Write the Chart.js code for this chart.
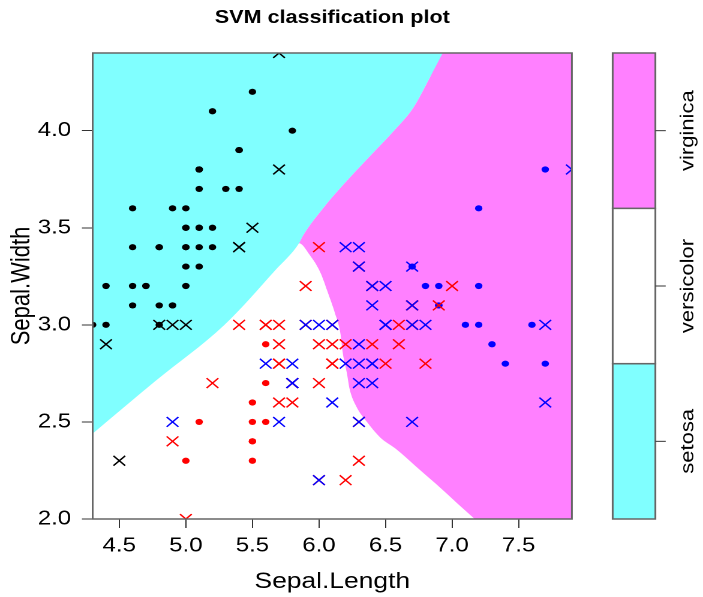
<!DOCTYPE html>
<html>
<head>
<meta charset="utf-8">
<script src="https://cdn.jsdelivr.net/npm/chart.js@4.4.0/dist/chart.umd.min.js"></script>
<style>
  html, body { margin: 0; padding: 0; background: #fff; }
  #plot { display: block; }
</style>
</head>
<body>
<!-- drawn narrower and stretched sideways, like the R device output -->
<canvas id="plot" width="586" height="597" style="width:703px;height:597px"></canvas>
<script>
// iris, Sepal.Length / Sepal.Width per species
const setosaLength = [5.1,4.9,4.7,4.6,5.0,5.4,4.6,5.0,4.4,4.9,5.4,4.8,4.8,4.3,5.8,5.7,5.4,5.1,5.7,5.1,5.4,5.1,4.6,5.1,4.8,5.0,5.0,5.2,5.2,4.7,4.8,5.4,5.2,5.5,4.9,5.0,5.5,4.9,4.4,5.1,5.0,4.5,4.4,5.0,5.1,4.8,5.1,4.6,5.3,5.0];
const setosaWidth  = [3.5,3.0,3.2,3.1,3.6,3.9,3.4,3.4,2.9,3.1,3.7,3.4,3.0,3.0,4.0,4.4,3.9,3.5,3.8,3.8,3.4,3.7,3.6,3.3,3.4,3.0,3.4,3.5,3.4,3.2,3.1,3.4,4.1,4.2,3.1,3.2,3.5,3.6,3.0,3.4,3.5,2.3,3.2,3.5,3.8,3.0,3.8,3.2,3.7,3.3];
const versicolorLength = [7.0,6.4,6.9,5.5,6.5,5.7,6.3,4.9,6.6,5.2,5.0,5.9,6.0,6.1,5.6,6.7,5.6,5.8,6.2,5.6,5.9,6.1,6.3,6.1,6.4,6.6,6.8,6.7,6.0,5.7,5.5,5.5,5.8,6.0,5.4,6.0,6.7,6.3,5.6,5.5,5.5,6.1,5.8,5.0,5.6,5.7,5.7,6.2,5.1,5.7];
const versicolorWidth  = [3.2,3.2,3.1,2.3,2.8,2.8,3.3,2.4,2.9,2.7,2.0,3.0,2.2,2.9,2.9,3.1,3.0,2.7,2.2,2.5,3.2,2.8,2.5,2.8,2.9,3.0,2.8,3.0,2.9,2.6,2.4,2.4,2.7,2.7,3.0,3.4,3.1,2.3,3.0,2.5,2.6,3.0,2.6,2.3,2.7,3.0,2.9,2.9,2.5,2.8];
const virginicaLength = [6.3,5.8,7.1,6.3,6.5,7.6,4.9,7.3,6.7,7.2,6.5,6.4,6.8,5.7,5.8,6.4,6.5,7.7,7.7,6.0,6.9,5.6,7.7,6.3,6.7,7.2,6.2,6.1,6.4,7.2,7.4,7.9,6.4,6.3,6.1,7.7,6.3,6.4,6.0,6.9,6.7,6.9,5.8,6.8,6.7,6.7,6.3,6.5,6.2,5.9];
const virginicaWidth  = [3.3,2.7,3.0,2.9,3.0,3.0,2.5,2.9,2.5,3.6,3.2,2.7,3.0,2.5,2.8,3.2,3.0,3.8,2.6,2.2,3.2,2.8,2.8,2.7,3.3,3.2,2.8,3.0,2.8,3.0,2.8,3.8,2.8,2.8,2.6,3.0,3.4,3.1,3.0,3.1,3.1,3.1,2.7,3.2,3.3,3.0,2.5,3.0,3.4,3.0];

// 1 = support vector (drawn as x), 0 = plain point
const setosaSV     = [0,1,0,0,0,0,0,0,1,0,0,0,1,0,0,1,0,0,1,0,1,0,0,0,0,1,0,0,0,0,0,1,0,0,0,0,1,0,0,0,0,1,0,0,0,0,0,0,0,0];
const versicolorSV = [1,1,1,0,1,1,1,1,1,1,1,1,1,1,0,1,1,1,1,0,1,1,1,1,1,1,1,1,1,1,0,0,1,1,1,1,1,1,1,0,0,1,1,0,0,1,1,1,0,1];
const virginicaSV  = [1,1,0,1,1,0,1,0,1,0,1,1,1,1,1,1,1,0,1,1,0,1,0,1,1,0,1,1,1,0,0,1,1,1,1,1,1,1,1,0,1,0,1,0,0,1,1,1,1,1];

// decision boundaries
const setosaEdgeX = [4.30, 4.77, 5.29, 5.67, 5.85, 5.88, 6.03, 6.18, 6.37, 6.55, 6.71, 6.83, 6.93];
const setosaEdgeY = [2.44, 2.71, 3.00, 3.28, 3.42, 3.46, 3.60, 3.72, 3.86, 3.99, 4.12, 4.27, 4.40];
const virginicaEdgeX = [5.85, 5.93, 6.01, 6.07, 6.12, 6.16, 6.18, 6.21, 6.23, 6.28, 6.36, 6.46, 6.58, 6.73, 6.88, 7.04, 7.17];
const virginicaEdgeY = [3.42, 3.36, 3.27, 3.16, 3.06, 2.96, 2.85, 2.75, 2.67, 2.58, 2.50, 2.42, 2.36, 2.27, 2.18, 2.08, 2.00];

const xMin = 4.3, xMax = 7.9, yMin = 2.0, yMax = 4.4;
const xTickValues = [4.5, 5.0, 5.5, 6.0, 6.5, 7.0, 7.5];
const yTickValues = [2.0, 2.5, 3.0, 3.5, 4.0];

const classNames = ['setosa', 'versicolor', 'virginica'];
const regionColors = ['#80FFFF', '#FFFFFF', '#FF80FF'];
const symbolColors = ['#000000', '#FF0000', '#0000FF'];

const FONT = '"Liberation Sans", Arial, Helvetica, sans-serif';

function zip(xs, ys) {
    return xs.map((x, i) => ({ x: x, y: ys[i] }));
}

function pick(len, wid, sv, flag) {
    const out = [];
    for (let i = 0; i < len.length; i++) {
        if (sv[i] === flag) out.push({ x: len[i], y: wid[i] });
    }
    return out;
}

function region(data, fill, color, order) {
    return {
        type: 'line', data: data, fill: fill, backgroundColor: color,
        borderColor: 'rgba(0,0,0,0)', borderWidth: 0, pointRadius: 0,
        cubicInterpolationMode: 'monotone', order: order, clip: 0
    };
}

function dots(data, color, order) {
    return {
        type: 'scatter', data: data, pointStyle: 'circle', pointRadius: 3.1,
        pointBackgroundColor: color, pointBorderWidth: 0, order: order, clip: 0
    };
}

function crosses(data, color, order) {
    return {
        type: 'scatter', data: data, pointStyle: 'crossRot', pointRadius: 6.9,
        pointBorderColor: color, pointBorderWidth: 1.35, order: order, clip: 0
    };
}

const triple = virginicaEdgeX[0];
const setosaEdge = zip(setosaEdgeX, setosaEdgeY);
// magenta: everything under the setosa/virginica edge, right of the triple point
const upperEdge = setosaEdge.filter(p => p.x >= triple);
upperEdge.push({ x: xMax, y: yMax });
// white: under the setosa edge on the left, under the virginica edge on the right
const lowerEdge = setosaEdge.filter(p => p.x < triple).concat(zip(virginicaEdgeX, virginicaEdgeY));

const frame = {
    id: 'frame',
    afterDatasetsDraw(chart) {
        const { ctx, chartArea: a } = chart;
        ctx.save();
        ctx.strokeStyle = '#666';
        ctx.lineWidth = 1.5;
        ctx.strokeRect(a.left, a.top, a.right - a.left, a.bottom - a.top);
        ctx.restore();
    },
    afterDraw(chart) {
        const { ctx, chartArea: a } = chart;
        ctx.save();
        ctx.fillStyle = '#000';
        ctx.font = 'bold 18px ' + FONT;
        ctx.textAlign = 'center';
        ctx.textBaseline = 'middle';
        ctx.fillText('SVM classification plot', (a.left + a.right) / 2, 18);

        // colour key on the right
        const x0 = a.right + 34, w = 35.6;
        const h = (a.bottom - a.top) / classNames.length;
        classNames.forEach((name, i) => {
            const top = a.bottom - (i + 1) * h;
            ctx.fillStyle = regionColors[i];
            ctx.fillRect(x0, top, w, h);
            ctx.strokeStyle = '#666';
            ctx.lineWidth = 1.5;
            ctx.strokeRect(x0, top, w, h);
            ctx.strokeStyle = '#333';
            ctx.lineWidth = 1;
            ctx.beginPath();
            ctx.moveTo(x0 + w, top + h / 2);
            ctx.lineTo(x0 + w + 8.6, top + h / 2);
            ctx.stroke();
            ctx.save();
            ctx.translate(x0 + w + 27.4, top + h / 2);
            ctx.rotate(-Math.PI / 2);
            ctx.scale(1, 0.71);
            ctx.fillStyle = '#000';
            ctx.font = '22px ' + FONT;
            ctx.fillText(name, 0, 0);
            ctx.restore();
        });
        ctx.restore();
    }
};

new Chart(document.getElementById('plot'), {
    type: 'scatter',
    data: {
        datasets: [
            region(upperEdge, 'start', regionColors[2], 30),
            region(lowerEdge, 'start', regionColors[1], 29),
            region(setosaEdge, 'end', regionColors[0], 28),
            dots(pick(setosaLength, setosaWidth, setosaSV, 0), symbolColors[0], 12),
            dots(pick(versicolorLength, versicolorWidth, versicolorSV, 0), symbolColors[1], 11),
            dots(pick(virginicaLength, virginicaWidth, virginicaSV, 0), symbolColors[2], 10),
            crosses(pick(setosaLength, setosaWidth, setosaSV, 1), symbolColors[0], 3),
            crosses(pick(versicolorLength, versicolorWidth, versicolorSV, 1), symbolColors[1], 2),
            crosses(pick(virginicaLength, virginicaWidth, virginicaSV, 1), symbolColors[2], 1)
        ]
    },
    options: {
        responsive: false,
        devicePixelRatio: 2,
        animation: false,
        events: [],
        layout: { padding: { top: 53, right: 109.3, left: 0, bottom: 0 } },
        plugins: {
            legend: { display: false },
            tooltip: { enabled: false }
        },
        scales: {
            x: {
                type: 'linear',
                min: xMin,
                max: xMax,
                afterBuildTicks: s => { s.ticks = xTickValues.map(v => ({ value: v })); },
                afterFit: s => { s.height = 78; },
                ticks: {
                    padding: 6,
                    color: '#000',
                    font: { family: FONT, size: 20 },
                    callback: v => Number(v).toFixed(1)
                },
                grid: { drawOnChartArea: false, drawTicks: true, tickLength: 9, color: '#333' },
                border: { display: false },
                title: {
                    display: true,
                    text: 'Sepal.Length',
                    color: '#000',
                    font: { family: FONT, size: 22 },
                    padding: { top: 0, bottom: 2 }
                }
            },
            y: {
                type: 'linear',
                min: yMin,
                max: yMax,
                afterBuildTicks: s => { s.ticks = yTickValues.map(v => ({ value: v })); },
                afterFit: s => { s.width = 77.25; },
                ticks: {
                    padding: 9,
                    color: '#000',
                    font: { family: FONT, size: 20 },
                    callback: v => Number(v).toFixed(1)
                },
                grid: { drawOnChartArea: false, drawTicks: true, tickLength: 9, color: '#333' },
                border: { display: false },
                title: {
                    display: true,
                    text: 'Sepal.Width',
                    color: '#000',
                    font: { family: FONT, size: 22 },
                    padding: { top: 5, bottom: 0 }
                }
            }
        }
    },
    plugins: [frame]
});
</script>
</body>
</html>
